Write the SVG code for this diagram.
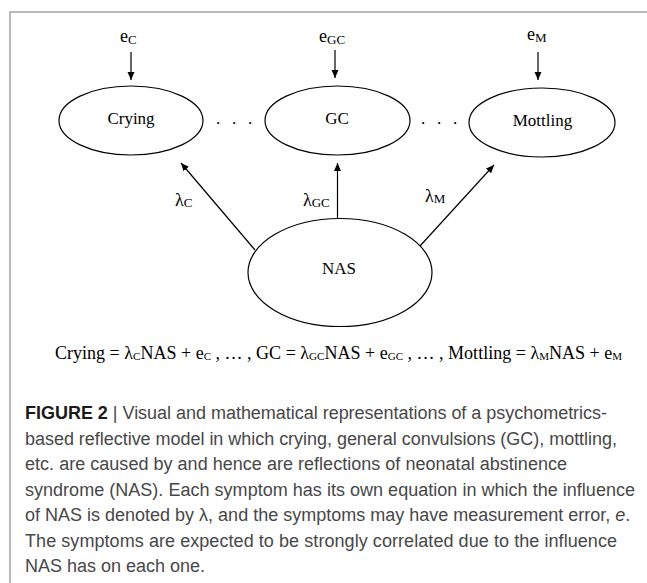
<svg xmlns="http://www.w3.org/2000/svg" width="647" height="583" viewBox="0 0 647 583">
<style>
.frame{stroke:#a3a3a3;stroke-width:1.5;fill:none}
.node{fill:#fff;stroke:#000;stroke-width:1.2}
.lbl{font-family:"Liberation Serif","Times New Roman",serif;font-size:17px;fill:#000;text-anchor:middle}
.sym{font-family:"Liberation Serif","Times New Roman",serif;font-size:18px;fill:#000}
.sub{font-size:13px}
.eq{font-family:"Liberation Serif","Times New Roman",serif;font-size:18px;fill:#000}
.esub{font-size:11px}
.edge{stroke:#000;stroke-width:1.2;fill:none;marker-end:url(#ah)}
.cap{font-family:"Liberation Sans",Arial,sans-serif;font-size:18px;fill:#474747}
.capb{font-weight:bold;fill:#1a1a1a}
</style>
<defs>
<marker id="ah" markerUnits="userSpaceOnUse" markerWidth="8" markerHeight="8" refX="8" refY="4" orient="auto">
<path d="M0,0.5 L8,4 L0,7.5 z" fill="#000"/>
</marker>
</defs>
<rect width="647" height="583" fill="#fff"/>
<path class="frame" d="M10,583 L10,12 L647,12"/>

<g id="err-c"><text class="sym" x="120" y="42">e<tspan class="sub" dy="2">C</tspan></text></g>
<g id="err-gc"><text class="sym" x="319" y="42">e<tspan class="sub" dy="2">GC</tspan></text></g>
<g id="err-m"><text class="sym" x="527" y="40">e<tspan class="sub" dy="2">M</tspan></text></g>

<g id="node-crying"><ellipse class="node" cx="131" cy="120.5" rx="72" ry="34.5"/><text class="lbl" x="131" y="124">Crying</text></g>
<g id="node-gc"><ellipse class="node" cx="337.5" cy="120.5" rx="72.5" ry="34.5"/><text class="lbl" x="337" y="124">GC</text></g>
<g id="node-mottling"><ellipse class="node" cx="542" cy="122.5" rx="73" ry="34.5"/><text class="lbl" x="542.5" y="126">Mottling</text></g>
<g id="node-nas"><ellipse class="node" cx="340" cy="272.5" rx="92" ry="54"/><text class="lbl" x="339" y="274">NAS</text></g>

<g id="ellipsis">
<text class="sym" style="font-size:17px" x="216 224 232 240 248" y="124">. . .</text>
<text class="sym" style="font-size:17px" x="421 429 437 445 453" y="124">. . .</text>
</g>

<g id="connectors">
<line class="edge" x1="131" y1="52" x2="131" y2="80"/>
<line class="edge" x1="335" y1="50" x2="335" y2="78"/>
<line class="edge" x1="538" y1="52" x2="538" y2="80"/>
<line class="edge" x1="255" y1="250" x2="181" y2="163"/>
<line class="edge" x1="337.5" y1="218.5" x2="337.5" y2="163"/>
<line class="edge" x1="420" y1="246" x2="494" y2="165"/>
<text class="sym" x="175" y="206">λ<tspan class="sub" dy="1">C</tspan></text>
<text class="sym" x="303" y="206">λ<tspan class="sub" dy="1">GC</tspan></text>
<text class="sym" x="425" y="202">λ<tspan class="sub" dy="1">M</tspan></text>
</g>

<text class="eq" x="55" y="359" textLength="567" lengthAdjust="spacingAndGlyphs">Crying = λ<tspan class="esub" dy="1">C</tspan><tspan dy="-1">NAS + e</tspan><tspan class="esub" dy="1">C</tspan><tspan dy="-1"> , … , GC = λ</tspan><tspan class="esub" dy="1">GC</tspan><tspan dy="-1">NAS + e</tspan><tspan class="esub" dy="1">GC</tspan><tspan dy="-1"> , … , Mottling = λ</tspan><tspan class="esub" dy="1">M</tspan><tspan dy="-1">NAS + e</tspan><tspan class="esub" dy="1">M</tspan></text>

<g id="caption">
<text class="cap" x="25" y="419" textLength="582" lengthAdjust="spacing"><tspan class="capb">FIGURE 2</tspan> | Visual and mathematical representations of a psychometrics-</text>
<text class="cap" x="25" y="444.5" textLength="592" lengthAdjust="spacing">based reflective model in which crying, general convulsions (GC), mottling,</text>
<text class="cap" x="25" y="470" textLength="542" lengthAdjust="spacing">etc. are caused by and hence are reflections of neonatal abstinence</text>
<text class="cap" x="25" y="495.5" textLength="610" lengthAdjust="spacing">syndrome (NAS). Each symptom has its own equation in which the influence</text>
<text class="cap" x="25" y="521">of NAS is denoted by λ, and the symptoms may have measurement error, <tspan font-style="italic">e</tspan>.</text>
<text class="cap" x="25" y="546.5" textLength="592" lengthAdjust="spacing">The symptoms are expected to be strongly correlated due to the influence</text>
<text class="cap" x="25" y="572">NAS has on each one.</text>
</g>
</svg>
